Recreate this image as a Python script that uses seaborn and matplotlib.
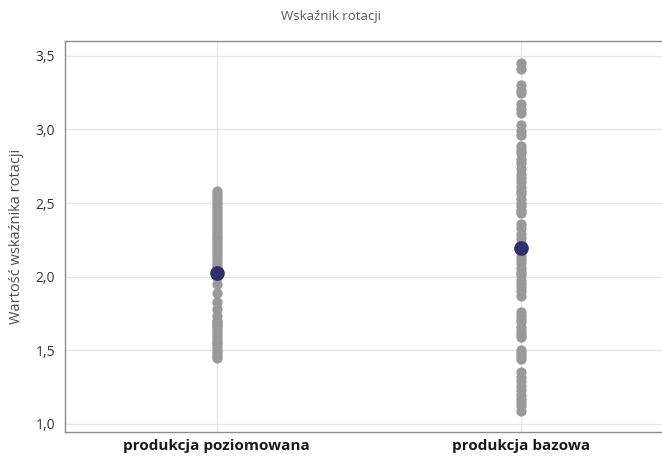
import numpy as np
import pandas as pd
import seaborn as sns
import matplotlib.pyplot as plt
from matplotlib.ticker import FuncFormatter

categories = ['produkcja poziomowana', 'produkcja bazowa']

# wartosci
poziomowana = [2.58, 2.56, 2.54, 2.52, 2.50, 2.48, 2.46, 2.44, 2.42, 2.40,
               2.38, 2.36, 2.34, 2.32, 2.30, 2.28, 2.26, 2.24, 2.22, 2.20,
               2.18, 2.16, 2.14, 2.12, 2.10, 2.08, 2.06, 2.04, 2.02, 2.00,
               1.95, 1.89, 1.83, 1.78, 1.73, 1.70, 1.69, 1.68, 1.67, 1.66,
               1.64, 1.62, 1.60, 1.58, 1.56, 1.54, 1.52, 1.50, 1.48, 1.46,
               1.45]
bazowa = [3.45, 3.41, 3.30, 3.27, 3.25, 3.17, 3.14, 3.11, 3.03, 2.99,
          2.96, 2.89, 2.86, 2.84, 2.80, 2.77, 2.73, 2.70, 2.67, 2.64,
          2.61, 2.58, 2.56, 2.53, 2.50, 2.48, 2.45, 2.43, 2.36, 2.33,
          2.29, 2.26, 2.22, 2.20, 2.17, 2.14, 2.12, 2.09, 2.06, 2.03,
          2.01, 1.98, 1.95, 1.93, 1.90, 1.87, 1.76, 1.74, 1.71, 1.69,
          1.66, 1.63, 1.61, 1.59, 1.50, 1.48, 1.46, 1.44, 1.35, 1.32,
          1.29, 1.26, 1.23, 1.20, 1.17, 1.14, 1.12, 1.09]
yticks = [1.0, 1.5, 2.0, 2.5, 3.0, 3.5]

df = pd.DataFrame({
    'grupa': [categories[0]] * len(poziomowana) + [categories[1]] * len(bazowa),
    'wartosc': poziomowana + bazowa,
})

sns.set_style('white')
plt.rcParams['font.family'] = ['Open Sans', 'DejaVu Sans']

fig = plt.figure(figsize=(6.62, 4.59), dpi=100)
ax = fig.add_axes([0.098, 0.059, 0.902, 0.852])

sns.stripplot(data=df, x='grupa', y='wartosc', order=categories, jitter=False,
              color='#999999', size=7.4, linewidth=0, ax=ax, zorder=3)
sns.pointplot(data=df, x='grupa', y='wartosc', order=categories, estimator='mean',
              errorbar=None, linestyle='none', markers='o', color='#2f2f6b',
              markersize=8.5, ax=ax, zorder=4)

ax.set_xlim(-0.5, 1.465)
ax.set_ylim(0.946, 3.602)
ax.set_yticks(yticks)
ax.yaxis.set_major_formatter(FuncFormatter(lambda v, p: f'{v:.1f}'.replace('.', ',')))
ax.grid(True, color='#e6e6e6', linewidth=1)
ax.set_axisbelow(True)

for s in ['left', 'bottom', 'top']:
    ax.spines[s].set_color('#8c8c8c')
    ax.spines[s].set_linewidth(1)
ax.spines['right'].set_visible(False)

ax.tick_params(axis='both', which='both', length=4, color='#8c8c8c', width=1)
ax.tick_params(axis='y', labelsize=10, labelcolor='#333333', pad=3)
ax.tick_params(axis='x', labelsize=11, labelcolor='#1a1a1a', pad=1)
for t in ax.get_xticklabels():
    t.set_fontweight('bold')

ax.set_xlabel('')
ax.set_ylabel('Wartość wskaźnika rotacji', fontsize=10.5, color='#4d4d4d', labelpad=8)
fig.text(0.5, 0.963, 'Wskaźnik rotacji', ha='center', va='center',
         fontsize=9.5, color='#595959')

fig.savefig('out.png', dpi=100)
